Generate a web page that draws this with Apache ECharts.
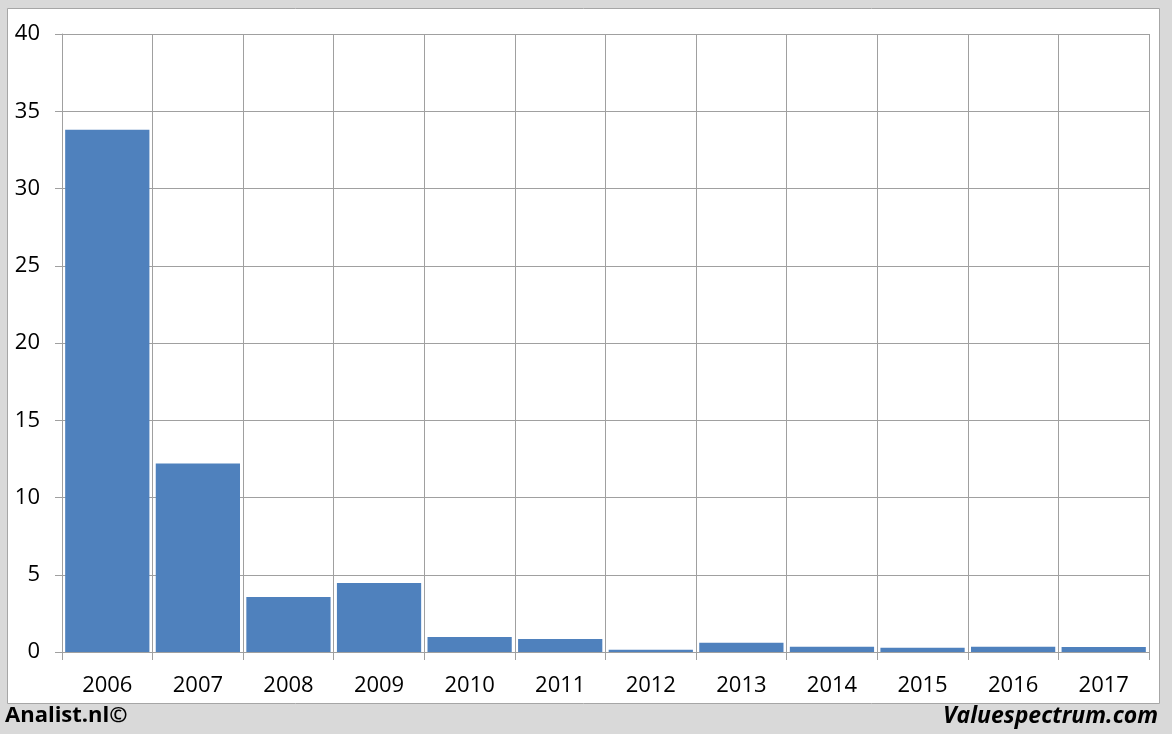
<!DOCTYPE html>
<html>
<head>
<meta charset="utf-8">
<script src="https://cdn.jsdelivr.net/npm/echarts@6/dist/echarts.min.js"></script>
<style>
html,body{margin:0;padding:0;background:#d9d9d9;}
#chart{width:1172px;height:734px;}
</style>
</head>
<body>
<div id="chart"></div>
<script>
const categories = ['2006','2007','2008','2009','2010','2011','2012','2013','2014','2015','2016','2017'];
const values = [33.8, 12.2, 3.56, 4.47, 0.97, 0.84, 0.15, 0.6, 0.34, 0.28, 0.34, 0.33];
const leftCredit = 'Analist.nl©';
const rightCredit = 'Valuespectrum.com';

const chart = echarts.init(document.getElementById('chart'), null, {renderer:'canvas'});
chart.setOption({
  backgroundColor: '#d9d9d9',
  animation: false,
  graphic: [
    {type:'rect', shape:{x:7.5, y:8.5, width:1152, height:695}, style:{fill:'#ffffff', stroke:'#a6a6a6', lineWidth:1}, z:-10},
    {type:'text', left:5, top:705, style:{text:leftCredit, font:'bold 22px "Open Sans", "Noto Sans", sans-serif', fill:'#000'}},
    {type:'text', right:14, top:705, style:{text:rightCredit, font:'italic bold 23px "Open Sans", "Noto Sans", sans-serif', fill:'#000'}}
  ],
  grid: {left:62, right:23, top:34, bottom:82, containLabel:false},
  xAxis: {
    type:'category',
    data: categories,
    boundaryGap: true,
    axisLine:{show:true, lineStyle:{color:'#a0a0a0', width:1}},
    axisTick:{show:true, length:8, alignWithLabel:false, lineStyle:{color:'#a0a0a0'}},
    splitLine:{show:true, lineStyle:{color:'#a0a0a0', width:1}},
    axisLabel:{color:'#000', fontSize:22, fontFamily:'"Open Sans", "Noto Sans", sans-serif', margin:23}
  },
  yAxis: {
    type:'value',
    min:0, max:40, interval:5,
    axisLine:{show:true, lineStyle:{color:'#a0a0a0', width:1}},
    axisTick:{show:true, length:7, lineStyle:{color:'#a0a0a0'}},
    splitLine:{show:true, lineStyle:{color:'#a0a0a0', width:1}},
    axisLabel:{color:'#000', fontSize:22, fontFamily:'"Open Sans", "Noto Sans", sans-serif', margin:22}
  },
  series: [{
    type:'bar',
    data: values,
    barCategoryGap:'7%',
    itemStyle:{color:'#4f81bd'},
    silent:true
  }]
});
</script>
</body>
</html>
